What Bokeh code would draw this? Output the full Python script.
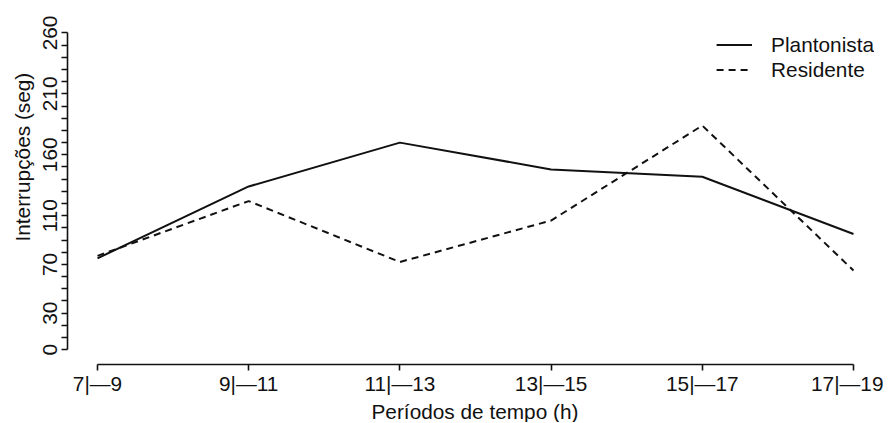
from bokeh.plotting import figure
from bokeh.models import Range1d, FixedTicker, Legend, LegendItem, Title
from bokeh.embed import file_html
from bokeh.resources import INLINE

# ---- data ----
periods = ["7|—9", "9|—11", "11|—13", "13|—15", "15|—17", "17|—19"]
plantonista = [75, 134, 170, 148, 142, 95]
residente = [77, 122, 72, 106, 184, 65]
y_ticks = [0, 10, 20, 30, 40, 50, 60, 70, 80, 90, 100, 110, 120, 130,
           140, 150, 160, 170, 180, 190, 200, 210, 220, 230, 240, 250, 260]
y_tick_labels = {0: "0", 30: "30", 70: "70", 110: "110", 160: "160", 210: "210", 260: "260"}
series_names = ["Plantonista", "Residente"]
x_title = "Períodos de tempo (h)"
y_title = "Interrupções (seg)"

FONT = "Liberation Sans"
FS = "20.8px"
INK = "#111111"

x = list(range(len(periods)))

p = figure(width=883, height=422, output_backend="svg", toolbar_location=None,
           title=None,
           x_range=Range1d(-0.1984, 5.139), y_range=Range1d(-12.17, 260.4),
           min_border_left=67, min_border_right=9, min_border_top=32, min_border_bottom=54)
p.outline_line_color = None
p.xgrid.visible = False
p.ygrid.visible = False
p.background_fill_color = "white"
p.border_fill_color = "white"

# x axis
xa = p.xaxis[0]
xa.ticker = FixedTicker(ticks=x)
xa.major_label_overrides = {i: s for i, s in enumerate(periods)}
xa.bounds = (0, len(periods) - 1)
xa.major_tick_out = 6
xa.major_tick_in = 0
xa.minor_tick_out = 0
xa.minor_tick_in = 0
xa.axis_line_width = 1.6
xa.major_tick_line_width = 1.6
xa.axis_line_color = INK
xa.major_tick_line_color = INK
xa.major_label_text_font = FONT
xa.major_label_text_font_size = FS
xa.major_label_text_color = INK
xa.major_label_standoff = 1

# y axis
ya = p.yaxis[0]
ya.ticker = FixedTicker(ticks=y_ticks)
ya.major_label_overrides = {t: y_tick_labels.get(t, "") for t in y_ticks}
ya.bounds = (y_ticks[0], y_ticks[-1])
ya.major_tick_out = 6
ya.major_tick_in = 0
ya.minor_tick_out = 0
ya.minor_tick_in = 0
ya.axis_line_width = 1.6
ya.major_tick_line_width = 1.6
ya.axis_line_color = INK
ya.major_tick_line_color = INK
ya.major_label_text_font = FONT
ya.major_label_text_font_size = FS
ya.major_label_text_color = INK
ya.major_label_orientation = "parallel"
ya.major_label_standoff = 4

# lines
r1 = p.line(x, plantonista, line_color=INK, line_width=2)
r2 = p.line(x, residente, line_color=INK, line_width=2, line_dash="7 5")

legend = Legend(items=[LegendItem(label=series_names[0], renderers=[r1]),
                       LegendItem(label=series_names[1], renderers=[r2])],
                location="top_right", margin=0, padding=2, spacing=0,
                glyph_width=36, glyph_height=25, label_height=25,
                label_standoff=19, border_line_color=None,
                background_fill_alpha=0,
                label_text_font=FONT, label_text_font_size=FS,
                label_text_color=INK)
p.add_layout(legend)

# axis titles
p.add_layout(Title(text=x_title, align="left", offset=304, standoff=0,
                   text_font=FONT, text_font_size=FS, text_font_style="normal",
                   text_color=INK), "below")
p.add_layout(Title(text=y_title, align="left", offset=123, standoff=14,
                   text_font=FONT, text_font_size=FS, text_font_style="normal",
                   text_color=INK), "left")

open("out.html", "w").write(file_html(p, INLINE))
